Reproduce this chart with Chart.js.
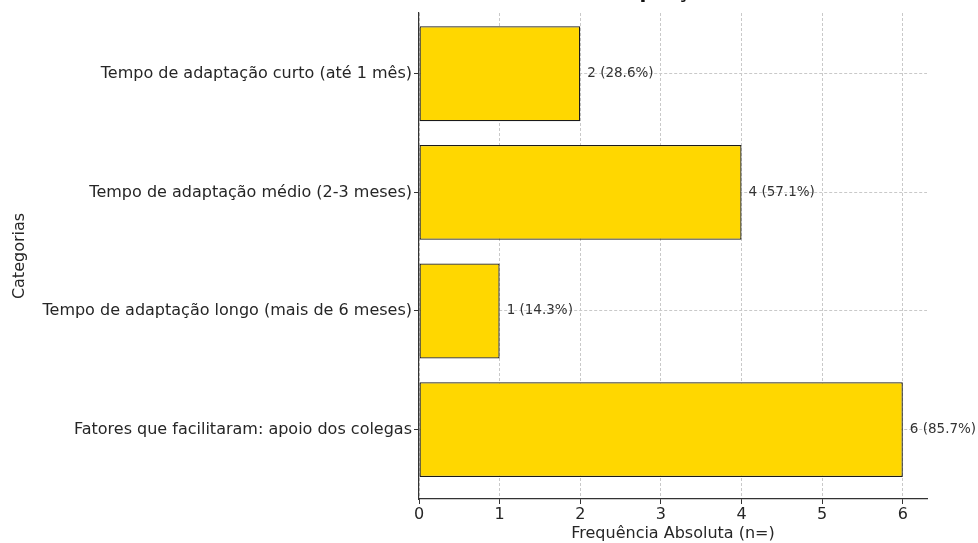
<!DOCTYPE html>
<html>
<head>
  <meta charset="utf-8">
  <title>Adaptação</title>
  <script src="https://cdn.jsdelivr.net/npm/chart.js@4.4.2/dist/chart.umd.min.js"></script>
  <style>
    html, body { margin: 0; padding: 0; background: #fff; }
    #wrap { width: 978px; height: 543px; }
  </style>
</head>
<body>
<div id="wrap"><canvas id="adaptChart" width="978" height="543"></canvas></div>
<script>
const categorias = [
  'Tempo de adaptação curto (até 1 mês)',
  'Tempo de adaptação médio (2-3 meses)',
  'Tempo de adaptação longo (mais de 6 meses)',
  'Fatores que facilitaram: apoio dos colegas'
];
const frequencias = [2, 4, 1, 6];
const percentuais = [28.6, 57.1, 14.3, 85.7];
const xTicks = [0, 1, 2, 3, 4, 5, 6];
const tituloGrafico = 'Adaptação';

const FONT = "'DejaVu Sans', sans-serif";
const gridColor = '#c9c9c9';
const inkColor = '#262626';

// value labels "n (p%)" to the right of each bar, drawn after the grid
const valueLabels = {
  id: 'valueLabels',
  afterDraw(chart) {
    const ctx = chart.ctx;
    const meta = chart.getDatasetMeta(0);
    ctx.save();
    ctx.font = '13.5px ' + FONT;
    ctx.fillStyle = '#333';
    ctx.textAlign = 'left';
    ctx.textBaseline = 'middle';
    meta.data.forEach((bar, i) => {
      ctx.fillText(frequencias[i] + ' (' + percentuais[i].toFixed(1) + '%)', bar.x + 7, bar.y);
    });
    ctx.restore();
  }
};

// title sits above the plot, mostly outside the canvas
const topTitle = {
  id: 'topTitle',
  afterDraw(chart) {
    const { ctx, chartArea } = chart;
    ctx.save();
    ctx.font = 'bold 20px ' + FONT;
    ctx.fillStyle = '#111';
    ctx.textAlign = 'center';
    ctx.textBaseline = 'alphabetic';
    ctx.fillText(tituloGrafico, (chartArea.left + chartArea.right) / 2 - 17, -2);
    ctx.restore();
  }
};

const ctx = document.getElementById('adaptChart').getContext('2d');
new Chart(ctx, {
  type: 'bar',
  data: {
    datasets: [{
      data: frequencias.map((v, i) => ({ x: v, y: i })),
      backgroundColor: '#FFD700',
      borderColor: '#1a1a1a',
      borderWidth: 1.3,
      borderSkipped: false,
      categoryPercentage: 0.8,
      barPercentage: 1.0
    }]
  },
  options: {
    indexAxis: 'y',
    responsive: false,
    animation: false,
    layout: { padding: { left: 0, top: 13, right: 51, bottom: 0 } },
    plugins: {
      legend: { display: false },
      tooltip: { enabled: false }
    },
    scales: {
      x: {
        type: 'linear',
        min: 0,
        max: 6.3,
        z: 1,
        afterBuildTicks: (scale) => { scale.ticks = xTicks.map(v => ({ value: v })); },
        afterFit: (scale) => { scale.height = 44; },
        ticks: { font: { family: FONT, size: 16 }, color: inkColor, padding: 1 },
        grid: {
          color: gridColor, lineWidth: 1,
          tickColor: '#333', tickLength: 5, tickWidth: 1, tickBorderDash: []
        },
        border: { display: true, color: '#333', width: 1.2, dash: [3, 2] },
        title: {
          display: true, text: 'Frequência Absoluta (n=)',
          font: { family: FONT, size: 16 }, color: inkColor,
          padding: { top: 0, bottom: 0 }
        }
      },
      y: {
        type: 'linear',
        reverse: true,
        offset: false,
        min: -0.512,
        max: 3.585,
        z: 1,
        afterBuildTicks: (scale) => { scale.ticks = categorias.map((_, i) => ({ value: i })); },
        afterFit: (scale) => { scale.width = 419; },
        ticks: {
          font: { family: FONT, size: 16 }, color: inkColor, padding: 2,
          callback: (v) => categorias[v]
        },
        grid: {
          offset: false,
          color: gridColor, lineWidth: 1,
          tickColor: '#333', tickLength: 5, tickWidth: 1, tickBorderDash: []
        },
        border: { display: true, color: '#333', width: 1.2, dash: [3, 2] },
        title: {
          display: true, text: 'Categorias',
          font: { family: FONT, size: 16 }, color: inkColor,
          padding: { top: 10, bottom: 0 }
        }
      }
    }
  },
  plugins: [valueLabels, topTitle]
});
</script>
</body>
</html>
